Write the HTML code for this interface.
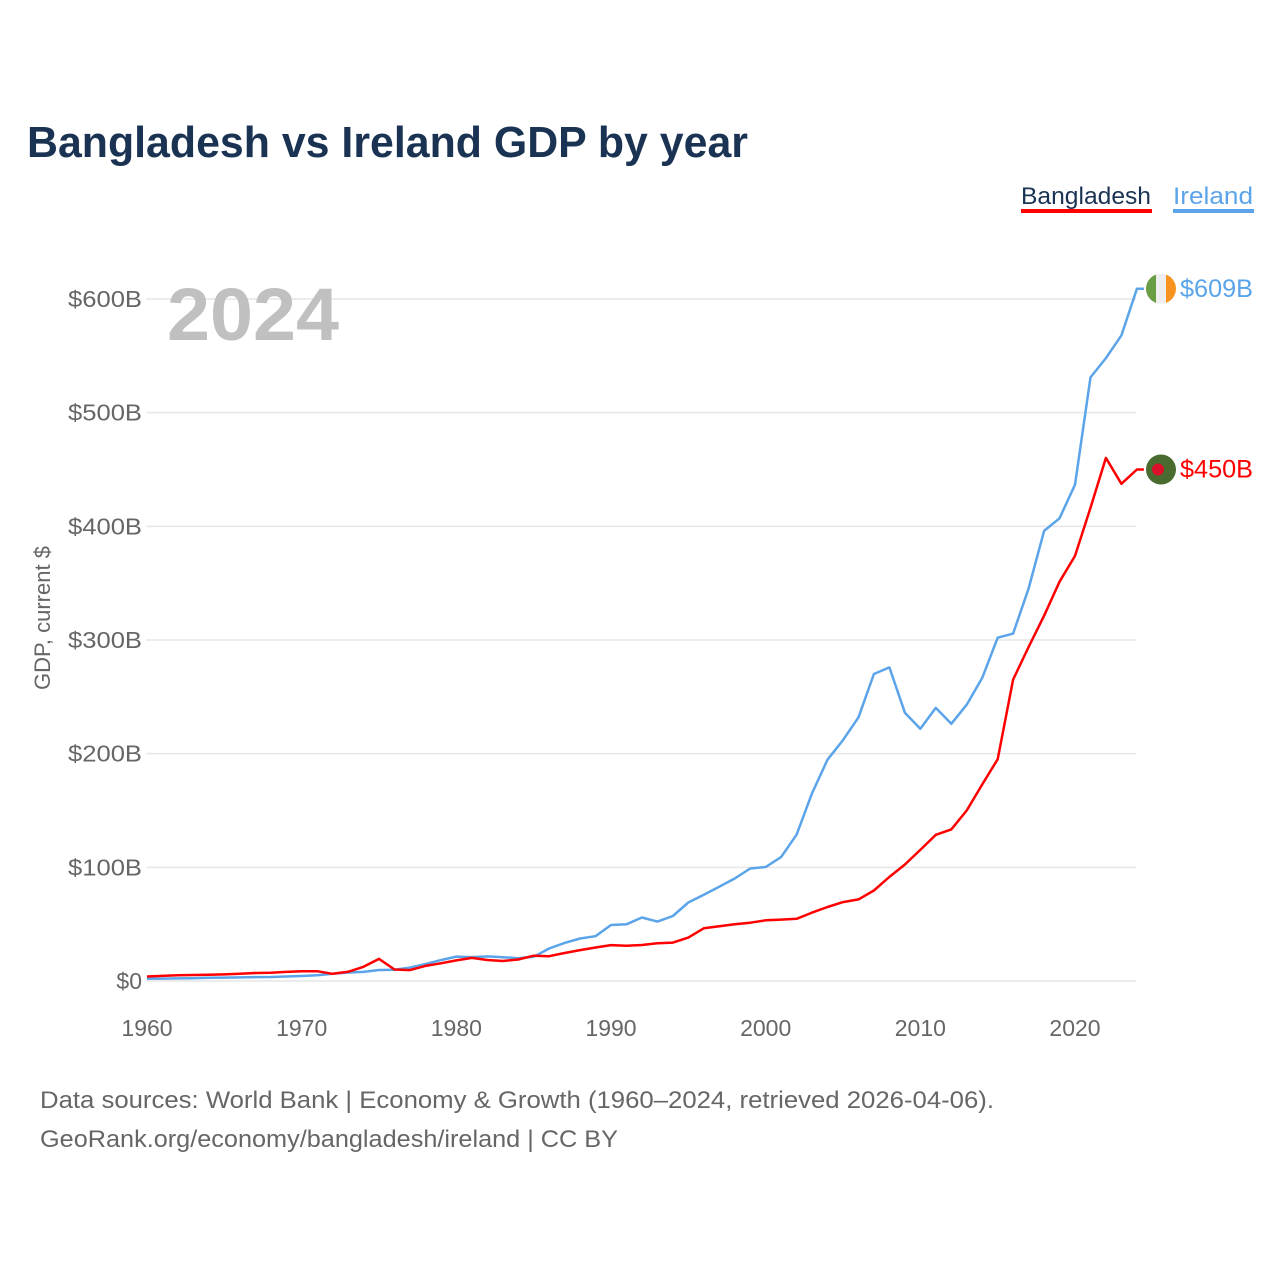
<!DOCTYPE html>
<html><head><meta charset="utf-8"><style>
html,body{margin:0;padding:0;background:#fff;}
svg{display:block;font-family:"Liberation Sans",sans-serif;}
</style></head><body>
<svg id="chart" width="1280" height="1280" viewBox="0 0 1280 1280" xmlns="http://www.w3.org/2000/svg">
<text x="27" y="157" font-size="44" font-weight="bold" fill="#1a3353" textLength="721" lengthAdjust="spacingAndGlyphs">Bangladesh vs Ireland GDP by year</text>
<g>
<text x="1021" y="204" font-size="24" fill="#1a3353" textLength="130" lengthAdjust="spacingAndGlyphs">Bangladesh</text>
<rect x="1021" y="209" width="131" height="4" fill="#ff0000"/>
<text x="1173" y="204" font-size="24" fill="#5ba4ea" textLength="80" lengthAdjust="spacingAndGlyphs">Ireland</text>
<rect x="1173" y="209" width="81" height="4" fill="#5ba4ea"/>
</g>
<g id="grid"></g>
<text x="167" y="340" font-size="74" font-weight="bold" fill="#c0c0c0" textLength="172" lengthAdjust="spacingAndGlyphs">2024</text>
<text transform="translate(50,618) rotate(-90)" text-anchor="middle" font-size="22" fill="#666">GDP, current $</text>
<g id="series"></g>
<g font-size="24" fill="#666">
<text x="40" y="1108" textLength="954" lengthAdjust="spacingAndGlyphs">Data sources: World Bank | Economy &amp; Growth (1960–2024, retrieved 2026-04-06).</text>
<text x="40" y="1147" textLength="578" lengthAdjust="spacingAndGlyphs">GeoRank.org/economy/bangladesh/ireland | CC BY</text>
</g>
</svg>
<script>
const years = [];
for (let y = 1960; y <= 2024; y++) years.push(y);
const bangladesh = [4,4.5,5,5.3,5.5,5.8,6.3,7,7.2,8,8.6,8.6,6.3,8.1,12.5,19.4,10.1,9.6,13.3,15.6,18.1,20.3,18.5,17.6,18.9,22.3,21.8,24.6,27.2,29.5,31.6,31,31.7,33.2,33.8,38.2,46.4,48.2,50,51.3,53.4,54,54.7,60.2,65.1,69.4,71.8,79.6,91.6,102.5,115.3,128.6,133.4,150,172.9,195.1,265.2,293.8,321.4,351.2,374,416.3,460.2,437.4,450];
const ireland = [1.9,2.1,2.3,2.5,2.8,3.0,3.2,3.4,3.5,4.0,4.4,5.0,6.3,7.5,8.0,9.7,9.9,11.8,14.9,18.4,21.5,21.0,21.6,20.9,20.1,21.3,28.6,33.5,37.4,39.4,49.3,49.9,55.9,52.3,57.2,69.1,75.9,83,90.2,99,100.3,109,128.7,165.3,194.7,211.9,232,270.1,275.9,236,222,240.3,226.3,243.1,266.7,302,305.6,345.3,396,407.1,436.6,531,548,568,609];
const yTicks = [0,100,200,300,400,500,600];
const yTickLabels = ["$0","$100B","$200B","$300B","$400B","$500B","$600B"];
const xTicks = [1960,1970,1980,1990,2000,2010,2020];

const NS = "http://www.w3.org/2000/svg";
const xS = v => 147 + (v - 1960) * (928 / 60);
const yS = v => 981 - v * (682 / 600);
function mk(tag, attrs, parent) {
  const e = document.createElementNS(NS, tag);
  for (const k in attrs) e.setAttribute(k, attrs[k]);
  parent.appendChild(e);
  return e;
}
const grid = document.getElementById('grid');
yTicks.forEach((t, i) => {
  const l = mk('line', {x1: 146, x2: 1136, y1: yS(t), y2: yS(t), stroke: '#e6e6e6', 'stroke-width': 1.5}, grid);
  
  
  const tx = mk('text', {x: 142, y: yS(t) + 8, 'text-anchor': 'end', 'font-size': 23, fill: '#666'}, grid);
  tx.textContent = yTickLabels[i];
  if (i > 0) { tx.setAttribute('textLength', 74); tx.setAttribute('lengthAdjust', 'spacingAndGlyphs'); }
  
  
});
xTicks.forEach(t => {
  const tx = mk('text', {x: xS(t), y: 1036, 'text-anchor': 'middle', 'font-size': 23, fill: '#666'}, grid);
  tx.textContent = t;
  
  
});
const series = document.getElementById('series');
function drawLine(vals, color, name) {
  let d = vals.map((v, i) => (i ? 'L' : 'M') + xS(years[i]).toFixed(1) + ',' + yS(v).toFixed(1)).join(' ');
  d += ' L' + (xS(2024) + 7).toFixed(1) + ',' + yS(vals[vals.length - 1]).toFixed(1);
  const p = mk('path', {d: d, fill: 'none', stroke: color, 'stroke-width': 2.5, 'stroke-linejoin': 'round'}, series);
  
  
}
drawLine(ireland, '#5ba4ea', 'ireland-line');
drawLine(bangladesh, '#ff0000', 'bangladesh-line');

const iy = yS(ireland[ireland.length - 1]), by = yS(bangladesh[bangladesh.length - 1]);
const cx = 1161;
const defs = mk('defs', {}, series);
const cp = mk('clipPath', {id: 'ieclip'}, defs);
mk('circle', {cx: cx, cy: iy, r: 15}, cp);
const flag = mk('g', {'clip-path': 'url(#ieclip)'}, series);


mk('rect', {x: cx - 15, y: iy - 15, width: 10, height: 30, fill: '#6a9e45'}, flag);
mk('rect', {x: cx - 5, y: iy - 15, width: 10, height: 30, fill: '#eeeeee'}, flag);
mk('rect', {x: cx + 5, y: iy - 15, width: 10, height: 30, fill: '#f7931e'}, flag);
const bd = mk('g', {}, series);


mk('circle', {cx: cx, cy: by, r: 15, fill: '#4a6b30'}, bd);
mk('circle', {cx: cx - 3, cy: by, r: 6, fill: '#d9112b'}, bd);
const il = mk('text', {x: 1180, y: iy + 8, 'font-size': 25, fill: '#5ba4ea', textLength: 73, lengthAdjust: 'spacingAndGlyphs'}, series);
il.textContent = '$609B';


const bl = mk('text', {x: 1180, y: by + 8, 'font-size': 25, fill: '#ff0000', textLength: 73, lengthAdjust: 'spacingAndGlyphs'}, series);
bl.textContent = '$450B';


</script>
</body></html>
